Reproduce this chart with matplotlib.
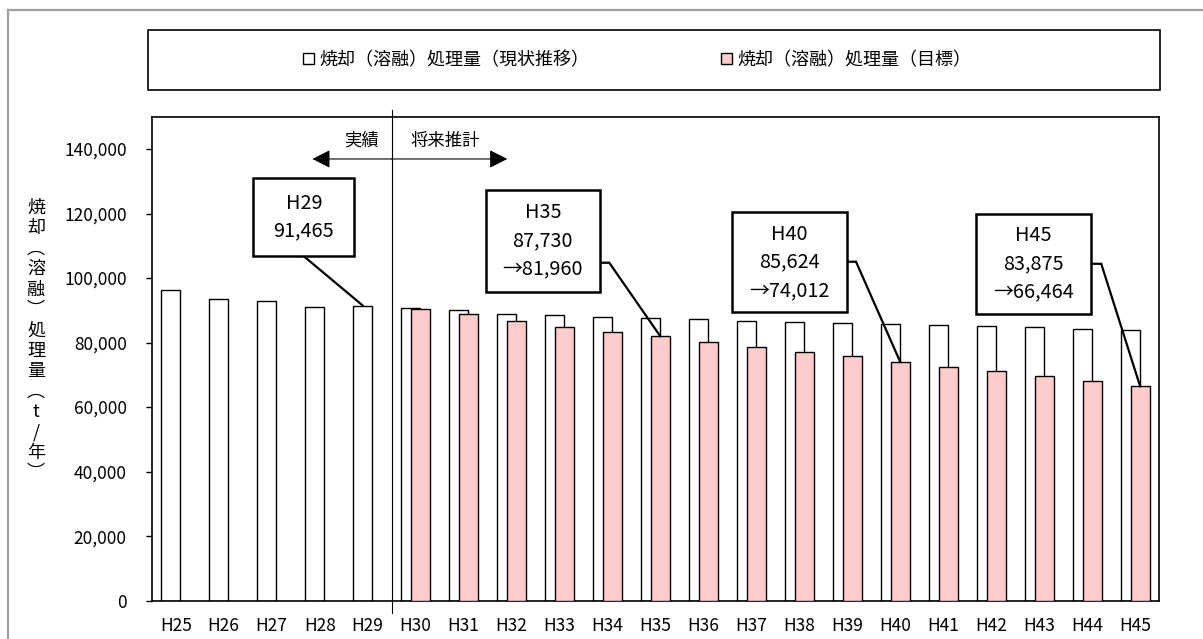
import numpy as np
import matplotlib
matplotlib.use("Agg")
import matplotlib.pyplot as plt
from matplotlib.patches import Rectangle
from matplotlib.lines import Line2D
from matplotlib.ticker import FuncFormatter

plt.rcParams['font.family'] = ['Noto Sans CJK JP', 'DejaVu Sans']

# ---------------- data ----------------
years = ["H25", "H26", "H27", "H28", "H29", "H30", "H31", "H32", "H33", "H34", "H35",
         "H36", "H37", "H38", "H39", "H40", "H41", "H42", "H43", "H44", "H45"]
current_trend = [96200, 93500, 92800, 91000, 91465, 90650, 90000, 88950, 88400, 88000, 87730,
                 87150, 86700, 86300, 86200, 85624, 85330, 85000, 84800, 84300, 83875]
target_years = ["H30", "H31", "H32", "H33", "H34", "H35", "H36", "H37",
                "H38", "H39", "H40", "H41", "H42", "H43", "H44", "H45"]
target_values = [90450, 88740, 86620, 84900, 83200, 81960, 80100, 78600,
                 77000, 75730, 74012, 72530, 71040, 69650, 68050, 66464]
series_names = ["焼却（溶融）処理量（現状推移）", "焼却（溶融）処理量（目標）"]
ylabel_chars = ["焼", "却", "︵", "溶", "融", "︶", "処", "理", "量", "︵", "t", "/", "年", "︶"]
yticks = [0, 20000, 40000, 60000, 80000, 100000, 120000, 140000]
label_past = "実績"
label_future = "将来推計"
callout_years = ["H29", "H35", "H40", "H45"]

W, H = 1203, 639
fig = plt.figure(figsize=(W / 100, H / 100), dpi=100)

def fx(px):
    return px / W

def fy(py):
    return 1 - py / H

# outer gray frame (left and top edges visible)
fig.add_artist(Line2D([fx(7.5), fx(7.5)], [0, fy(9.5)], transform=fig.transFigure,
                      color="#A0A0A0", lw=1.6))
fig.add_artist(Line2D([fx(7.5), 1], [fy(9.5), fy(9.5)], transform=fig.transFigure,
                      color="#A0A0A0", lw=1.6))

# axes
L, R, T, B = 151.7, 1159.3, 116.7, 600.7
ax = fig.add_axes([fx(L), fy(B), fx(R) - fx(L), (B - T) / H])

x = np.arange(len(years))
xt = np.array([years.index(y) for y in target_years])
bw = 0.40
b1 = ax.bar(x - 0.1, current_trend, width=bw, color="white", edgecolor="black",
            linewidth=1.0, zorder=2, label=series_names[0])
b2 = ax.bar(xt + 0.1, target_values, width=bw, color="#FFCCCC", edgecolor="black",
            linewidth=1.0, zorder=3, label=series_names[1])

ax.set_xlim(-0.5, len(years) - 0.5)
ax.set_ylim(0, 150000)
ax.set_xticks(x)
ax.set_xticklabels(years, fontsize=12.5)
ax.set_yticks(yticks)
ax.yaxis.set_major_formatter(FuncFormatter(lambda v, p: f"{int(v):,}"))
ax.tick_params(axis="y", labelsize=12.5, length=4, width=1, direction="out", pad=14)
ax.tick_params(axis="x", length=0, pad=12)
for s in ax.spines.values():
    s.set_color("black")
    s.set_linewidth(1.2)

# divider between actual and forecast
div_x = 4.5
ax.plot([div_x, div_x], [-0.025, 1.0145], transform=ax.get_xaxis_transform(),
        color="black", lw=0.8, clip_on=False, zorder=5)

# arrows and labels
arrow_y = 136900
ax.annotate("", xy=(2.85, arrow_y), xytext=(div_x, arrow_y),
            arrowprops=dict(arrowstyle="-|>,head_length=0.55,head_width=0.28", lw=0.8,
                            color="black", shrinkA=0, shrinkB=0, mutation_scale=20))
ax.annotate("", xy=(6.91, arrow_y), xytext=(div_x, arrow_y),
            arrowprops=dict(arrowstyle="-|>,head_length=0.55,head_width=0.28", lw=0.8,
                            color="black", shrinkA=0, shrinkB=0, mutation_scale=20))
ax.text(3.87, 142600, label_past, ha="center", va="center", fontsize=12.5)
ax.text(5.61, 142600, label_future, ha="center", va="center", fontsize=12.5)

# callouts: (box x0, x1, y0, y1, elbow_x or None, elbow_y, leader start x)
callout_layout = {
    "H29": (1.618, 3.723, 106880, 130880, None, 106880, 2.66),
    "H35": (6.461, 8.844, 95680, 127264, 9.037, 104736, 8.844),
    "H40": (11.588, 13.985, 89376, 120416, 14.179, 105056, 13.985),
    "H45": (16.68, 19.077, 88864, 119904, 19.29, 104416, 19.077),
}
for yr in callout_years:
    i = years.index(yr)
    x0, x1, y0, y1, ex, ey, sx = callout_layout[yr]
    cur = current_trend[i]
    if yr in target_years:
        tv = target_values[target_years.index(yr)]
        txt = f"{yr}\n{cur:,}\n→{tv:,}"
        end = (i + 0.1, tv)
    else:
        txt = f"{yr}\n{cur:,}"
        end = (i - 0.1, cur)
    if ex is None:
        xs, ys = [sx, end[0]], [ey, end[1]]
    else:
        xs, ys = [sx, ex, end[0]], [ey, ey, end[1]]
    ax.plot(xs, ys, color="black", lw=1.6, zorder=6, clip_on=False,
            solid_joinstyle="miter")
    ax.add_patch(Rectangle((x0, y0), x1 - x0, y1 - y0, facecolor="white",
                           edgecolor="black", lw=1.8, zorder=7))
    ax.text((x0 + x1) / 2, (y0 + y1) / 2, txt, ha="center", va="center",
            fontsize=14.3, linespacing=1.45, zorder=8)

# y-axis label, stacked characters
ys_px = np.linspace(208, 473, len(ylabel_chars))
for ch, yp in zip(ylabel_chars, ys_px):
    fig.text(fx(36), fy(yp), ch, ha="center", va="center", fontsize=13)

# legend box and entries
fig.add_artist(Rectangle((fx(148.3), fy(90)), fx(1160) - fx(148.3), (90 - 30) / H,
                         transform=fig.transFigure, facecolor="white",
                         edgecolor="black", lw=1.2))
leg = fig.legend(handles=[b1, b2], labels=series_names, ncol=2, loc="center",
                 bbox_to_anchor=(fx(637), fy(60)), frameon=False, fontsize=13,
                 handlelength=0.6, handleheight=0.6, handletextpad=0.3,
                 columnspacing=7.3)

fig.savefig("out.png", dpi=100)
